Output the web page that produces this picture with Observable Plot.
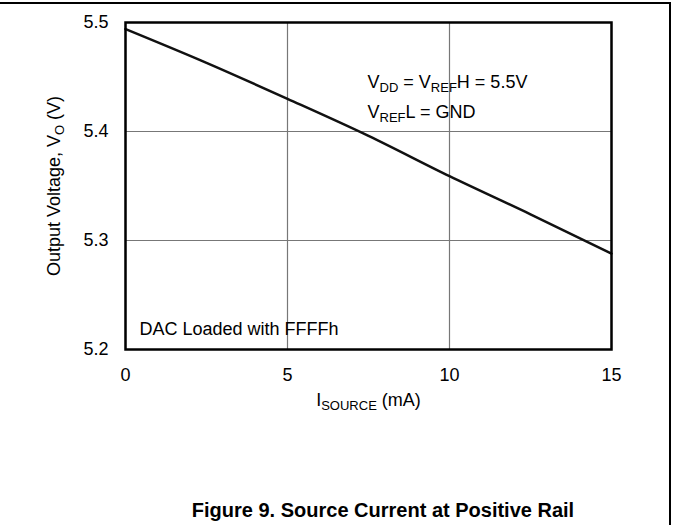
<!DOCTYPE html>
<html><head><meta charset="utf-8">
<script src="https://cdn.jsdelivr.net/npm/d3@7"></script>
<script src="https://cdn.jsdelivr.net/npm/@observablehq/plot@0.6"></script>
<style>
body{margin:0;background:#fff;font-family:"Liberation Sans",Arial,sans-serif;}
#page{position:relative;width:673px;height:525px;overflow:hidden;background:#fff;}
#border{position:absolute;left:0;top:2px;width:671px;height:540px;border-top:2px solid #000;border-right:2px solid #000;box-sizing:border-box;}
#chart{position:absolute;left:0;top:0;}
#caption{position:absolute;left:133px;width:500px;top:499px;text-align:center;font-weight:bold;font-size:20px;line-height:22px;color:#000;}
</style></head>
<body>
<div id="page"><div id="border"></div><div id="chart"></div><div id="caption">Figure 9. Source Current at Positive Rail</div></div>
<script>
const current = [0, 2.5, 5, 7.5, 10, 12.5, 15];
const voltage = [5.494, 5.463, 5.430, 5.396, 5.359, 5.324, 5.288];
const xTicks = [0, 5, 10, 15];
const yTicks = [5.2, 5.3, 5.4, 5.5];

const data = current.map((c, i) => ({current: c, voltage: voltage[i]}));
const font = '"Liberation Sans", Arial, sans-serif';

const plot = Plot.plot({
  width: 673, height: 440,
  marginLeft: 125, marginRight: 62, marginTop: 22, marginBottom: 91,
  style: {fontFamily: font, fontSize: "18px", color: "#000", background: "transparent"},
  x: {domain: [0, 15], label: null},
  y: {domain: [5.2, 5.5], label: null},
  marks: [
    Plot.gridX(xTicks, {stroke: "#777", strokeOpacity: 1, strokeWidth: 1.2}),
    Plot.gridY(yTicks, {stroke: "#777", strokeOpacity: 1, strokeWidth: 1.2}),
    Plot.axisX(xTicks, {tickSize: 0, tickPadding: 19, fontSize: 18}),
    Plot.axisY(yTicks, {tickSize: 0, tickPadding: 17, fontSize: 18, tickFormat: d3.format(".1f")}),
    Plot.line(data, {x: "current", y: "voltage", stroke: "#111", strokeWidth: 2.5, curve: "monotone-x"}),
    Plot.frame({stroke: "#000", strokeWidth: 2.5}),
    Plot.text(["@VDD"], {x: 7.47, y: 5.445, textAnchor: "start", fontSize: 18}),
    Plot.text(["@VREFL"], {x: 7.47, y: 5.418, textAnchor: "start", fontSize: 18}),
    Plot.text(["DAC Loaded with FFFFh"], {frameAnchor: "bottom-left", dx: 14, dy: -20, textAnchor: "start", lineAnchor: "middle", fontSize: 18}),
    Plot.text(["@XLABEL"], {frameAnchor: "bottom", dy: 51, textAnchor: "middle", lineAnchor: "middle", fontSize: 18}),
    Plot.text(["@YLABEL"], {frameAnchor: "left", dx: -71, rotate: -90, textAnchor: "middle", lineAnchor: "middle", fontSize: 18})
  ]
});

const rich = {
  "@VDD": [["V",0],["DD",1],[" = V",0],["REF",1],["H = 5.5V",0]],
  "@VREFL": [["V",0],["REF",1],["L = GND",0]],
  "@XLABEL": [["I",0],["SOURCE",1],[" (mA)",0]],
  "@YLABEL": [["Output Voltage, V",0],["O",1],[" (V)",0]]
};
d3.select(plot).selectAll("text").each(function() {
  const parts = rich[this.textContent];
  if (!parts) return;
  const t = d3.select(this);
  t.text(null);
  let sub = false;
  for (const [s, isSub] of parts) {
    const ts = t.append("tspan").text(s);
    if (isSub && !sub) { ts.attr("dy", "4").attr("font-size", "13px"); sub = true; }
    else if (isSub) { ts.attr("font-size", "13px"); }
    else if (!isSub && sub) { ts.attr("dy", "-4"); sub = false; }
  }
});
document.getElementById("chart").appendChild(plot);
</script>
</body></html>
